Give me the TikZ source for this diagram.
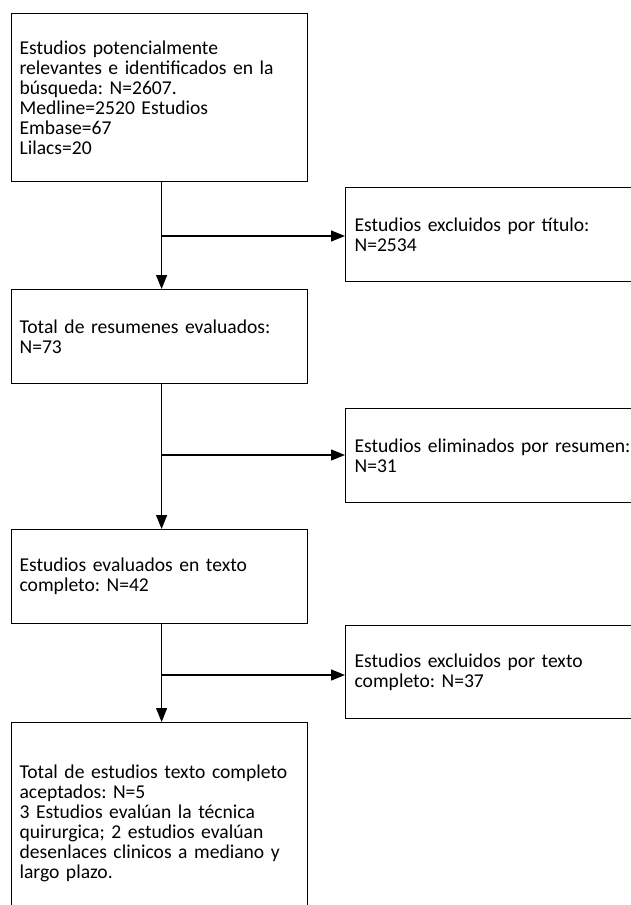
\documentclass[tikz,border=0pt]{standalone}
\usepackage{fontspec}
\setmainfont{Carlito}
\usetikzlibrary{arrows.meta}
\begin{document}
\frenchspacing
\hyphenpenalty=10000
\begin{tikzpicture}[x=1pt,y=-1pt,
  box/.style={draw, line width=1.2pt, rectangle, anchor=north west, inner xsep=8pt, inner ysep=0pt,
    align=left, text width=280pt, font=\fontsize{19.6}{20}\selectfont},
  sidebox/.style={box, inner xsep=9pt, text width=277pt},
  arr/.style={-{Triangle[length=14pt,width=11pt]}, line width=1.2pt}]
\useasboundingbox (0,0) rectangle (631,905);
\clip (0,0) rectangle (631,905);
\node[box, minimum height=168pt] (b1) at (11,13) {Estudios potencialmente\\relevantes e identificados en la\\búsqueda: N=2607.\\Medline=2520 Estudios\\Embase=67\\Lilacs=20};
\node[sidebox, minimum height=94pt] (r1) at (345,187) {Estudios excluidos por título:\\N=2534};
\node[box, minimum height=94pt] (b2) at (11,289) {Total de resumenes evaluados:\\N=73};
\node[sidebox, minimum height=94pt] (r2) at (345,408) {Estudios eliminados por resumen:\\N=31};
\node[box, minimum height=94pt] (b3) at (11,529) {Estudios evaluados en texto\\completo: N=42};
\node[sidebox, minimum height=93pt] (r3) at (345,625) {Estudios excluidos por texto\\completo: N=37};
\node[box, minimum height=202pt] (b4) at (11,722) {Total de estudios texto completo\\aceptados: N=5\\3 Estudios evalúan la técnica\\quirurgica; 2 estudios evalúan\\desenlaces clinicos a mediano y\\largo plazo.};
\coordinate (j1) at (162,236);
\coordinate (j2) at (162,455);
\coordinate (j3) at (162,675);
\draw[arr] ([xshift=2pt]b1.south) -- ([xshift=2pt]b2.north);
\draw[arr] ([xshift=2pt]b2.south) -- ([xshift=2pt]b3.north);
\draw[arr] ([xshift=2pt]b3.south) -- ([xshift=2pt]b4.north);
\draw[arr] (j1) -- (j1 -| r1.west);
\draw[arr] (j2) -- (j2 -| r2.west);
\draw[arr] (j3) -- (j3 -| r3.west);
\end{tikzpicture}
\end{document}
